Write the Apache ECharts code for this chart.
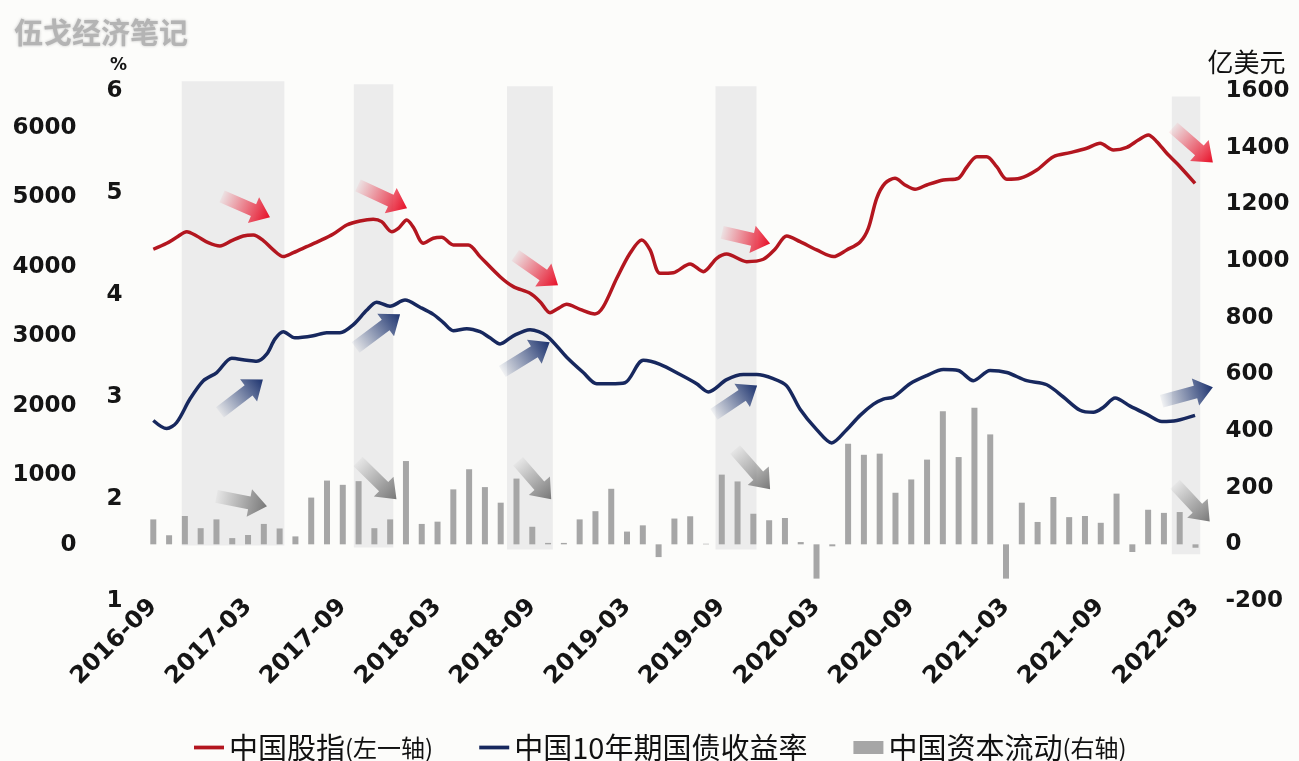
<!DOCTYPE html>
<html>
<head>
<meta charset="utf-8">
<script src="https://cdn.jsdelivr.net/npm/echarts@6/dist/echarts.min.js"></script>
<style>
  html, body { margin: 0; padding: 0; background: #fcfcfa; }
  #chart { width: 1299px; height: 761px; }
</style>
</head>
<body>
<div id="chart"></div>
<script>
// Monthly categories, 2016-09 .. 2022-03
const months = [
  '2016-09','2016-10','2016-11','2016-12',
  '2017-01','2017-02','2017-03','2017-04','2017-05','2017-06','2017-07','2017-08','2017-09','2017-10','2017-11','2017-12',
  '2018-01','2018-02','2018-03','2018-04','2018-05','2018-06','2018-07','2018-08','2018-09','2018-10','2018-11','2018-12',
  '2019-01','2019-02','2019-03','2019-04','2019-05','2019-06','2019-07','2019-08','2019-09','2019-10','2019-11','2019-12',
  '2020-01','2020-02','2020-03','2020-04','2020-05','2020-06','2020-07','2020-08','2020-09','2020-10','2020-11','2020-12',
  '2021-01','2021-02','2021-03','2021-04','2021-05','2021-06','2021-07','2021-08','2021-09','2021-10','2021-11','2021-12',
  '2022-01','2022-02','2022-03'
];

// China capital flow, 100 million USD (right axis), one bar per month
const capitalFlow = [
  88, 32, 100, 57, 88, 22, 33, 72, 56, 28,
  165, 225, 210, 223, 57, 88, 294, 72, 80, 194,
  265, 202, 147, 232, 62, 5, 5, 88, 117, 196,
  45, 67, -45, 91, 99, 2, 246, 222, 108, 85,
  93, 8, -121, -7, 355, 316, 320, 182, 229, 299,
  470, 308, 482, 388, -121, 147, 79, 167, 96, 100,
  76, 179, -27, 122, 111, 114, -12
];

// China stock index (left axis); [months since 2016-09, index level]
const stockIndex = [
  [0,4255],[0.85,4341],[1.48,4427],[2.12,4508],[2.75,4446],[3.48,4350],[4.22,4302],[4.97,4379],
  [5.7,4446],[6.33,4460],[6.97,4379],[7.6,4245],[8.23,4149],[8.87,4206],[9.71,4292],[10.56,4379],
  [11.4,4475],[12.25,4604],[13.09,4662],[13.93,4686],[14.46,4652],[15.1,4508],[15.52,4556],[16.05,4676],
  [16.47,4571],[17.1,4341],[17.73,4413],[18.26,4427],[19.0,4317],[19.95,4317],[20.69,4149],[21.96,3860],
  [22.8,3717],[23.86,3621],[24.49,3501],[25.12,3343],[25.65,3405],[26.18,3463],[27.02,3391],[27.97,3324],
  [28.5,3429],[29.35,3837],[30.19,4197],[30.93,4388],[31.46,4245],[32.09,3909],[32.93,3918],[33.99,4043],
  [34.83,3933],[35.68,4125],[36.31,4187],[37.58,4077],[38.63,4111],[39.37,4255],[40.11,4446],[40.96,4364],
  [42.01,4245],[43.07,4149],[43.91,4245],[44.76,4360],[45.28,4556],[45.81,4988],[46.34,5204],[46.97,5276],
  [47.6,5180],[48.24,5118],[48.98,5180],[50.03,5252],[50.98,5276],[51.51,5435],[52.15,5587],[52.78,5587],
  [53.41,5443],[54.05,5262],[54.89,5276],[55.95,5396],[57.0,5587],[58.06,5645],[59.11,5708],[59.96,5780],
  [60.8,5683],[61.65,5722],[62.38,5827],[63.01,5899],[63.55,5803],[64.18,5636],[65.02,5443],[65.97,5204]
];

// China 10-year government bond yield, %; [months since 2016-09, yield]
const bondYield = [
  [0,2.77],[0.85,2.69],[1.48,2.75],[2.32,2.98],[3.17,3.16],[4.02,3.24],[4.97,3.38],[5.92,3.36],
  [6.55,3.35],[7.18,3.42],[7.71,3.57],[8.23,3.64],[8.97,3.58],[10.13,3.6],[10.98,3.63],[11.82,3.63],
  [12.67,3.71],[13.51,3.85],[14.15,3.93],[14.99,3.89],[15.94,3.95],[16.89,3.88],[17.73,3.81],[18.37,3.73],
  [19.0,3.65],[19.85,3.67],[20.69,3.64],[21.32,3.58],[21.96,3.52],[22.8,3.6],[23.86,3.66],[24.91,3.6],
  [26.18,3.39],[27.23,3.24],[28.08,3.13],[28.92,3.13],[29.87,3.14],[31.03,3.36],[32.09,3.32],[33.36,3.22],
  [34.41,3.13],[35.15,3.05],[36.31,3.17],[37.37,3.22],[38.21,3.22],[39.26,3.18],[40.11,3.11],[40.96,2.88],
  [42.01,2.68],[42.96,2.55],[43.91,2.68],[44.76,2.82],[45.61,2.93],[46.23,2.98],[46.87,3.0],[47.92,3.13],
  [48.98,3.21],[50.03,3.27],[50.98,3.26],[51.93,3.16],[52.99,3.26],[54.05,3.24],[55.31,3.16],[56.58,3.12],
  [57.63,3.0],[58.69,2.87],[59.53,2.85],[60.17,2.9],[60.91,2.99],[61.86,2.91],[62.92,2.83],[63.87,2.76],
  [64.82,2.77],[65.97,2.82]
];

// Highlighted periods: [start month, end month, top, bottom] (right-axis units)
const shadedPeriods = [
  [1.8, 8.3, 1634, -4],
  [12.7, 15.2, 1624, -11],
  [22.4, 25.3, 1617, -18],
  [35.6, 38.2, 1617, -18],
  [64.5, 66.3, 1581, -35]
];

// Trend arrows: [tail month, tail value, tip month, tip value, kind] (right-axis units)
// kind 0 = stocks, 1 = bond yield, 2 = capital flow
const trendArrows = [
  [4.35, 1228, 7.39, 1154, 0],
  [12.96, 1267, 16.07, 1186, 0],
  [22.92, 1020, 25.63, 914, 0],
  [36.02, 1101, 39.06, 1062, 0],
  [64.58, 1472, 67.1, 1348, 0],
  [4.22, 466, 6.94, 582, 1],
  [12.81, 695, 15.63, 812, 1],
  [22.1, 610, 25.1, 713, 1],
  [35.5, 459, 38.24, 561, 1],
  [63.85, 505, 67.1, 554, 1],
  [4.0, 169, 7.2, 134, 2],
  [12.96, 293, 15.4, 159, 2],
  [23.1, 293, 25.2, 159, 2],
  [36.84, 335, 39.06, 194, 2],
  [64.7, 212, 66.9, 81, 2]
];

// Axis tick labels
const stockTicks = [0, 1000, 2000, 3000, 4000, 5000, 6000];

const NAMES = ['中国股指(左一轴)', '中国10年期国债收益率', '中国资本流动(右轴)'];
const RED = '#b3161f', NAVY = '#17285e', GREY = '#a6a6a6';
const ARROW_COLORS = [
  ['rgba(236,20,44,0.05)', 'rgba(230,16,40,1)'],
  ['rgba(31,56,115,0.05)', 'rgba(28,50,110,1)'],
  ['rgba(120,120,120,0.05)', 'rgba(120,120,120,1)']
];
const NUM_FONT = 'DejaVu Sans';
const CJK_FONT = 'Noto Sans CJK SC';
const LINE_ICON = 'path://M0,0H32V4H0Z';
const plain = v => String(v);

function arrowPoints(p0, p1) {
  const dx = p1[0] - p0[0], dy = p1[1] - p0[1];
  const len = Math.hypot(dx, dy);
  const ux = dx / len, uy = dy / len, nx = -uy, ny = ux;
  const head = 18, shaft = 6.5, wing = 14;
  const bx = p1[0] - ux * head, by = p1[1] - uy * head;
  return [
    [p0[0] + nx * shaft, p0[1] + ny * shaft],
    [bx + nx * shaft, by + ny * shaft],
    [bx + nx * wing, by + ny * wing],
    [p1[0], p1[1]],
    [bx - nx * wing, by - ny * wing],
    [bx - nx * shaft, by - ny * shaft],
    [p0[0] - nx * shaft, p0[1] - ny * shaft]
  ];
}

const tickLabel = {
  fontFamily: NUM_FONT, fontSize: 23, fontWeight: 'bold', color: '#151515'
};
// vertical labels sit a little below their tick
const yLabel = Object.assign({ padding: [5, 0, 0, 0], formatter: plain }, tickLabel);

const chart = echarts.init(document.getElementById('chart'));

chart.setOption({
  backgroundColor: '#fcfcfa',
  animation: false,
  title: {
    text: '伍戈经济笔记',
    left: 9,
    top: 13,
    textStyle: {
      fontFamily: CJK_FONT, fontSize: 29, fontWeight: 'bold', color: '#b4b4b4',
      textShadowColor: 'rgba(180,180,180,0.8)', textShadowBlur: 3
    }
  },
  legend: {
    data: [
      { name: NAMES[0], icon: LINE_ICON },
      { name: NAMES[1], icon: LINE_ICON },
      { name: NAMES[2], icon: 'rect' }
    ],
    left: 189,
    top: 728,
    itemWidth: 30,
    itemHeight: 13,
    itemGap: 46,
    formatter: function (n) {
      const i = n.indexOf('(');
      return i < 0 ? '{m|' + n + '}' : '{m|' + n.slice(0, i) + '}{s|' + n.slice(i) + '}';
    },
    textStyle: {
      color: '#111',
      fontFamily: CJK_FONT,
      rich: {
        m: { fontSize: 29, fontFamily: CJK_FONT, color: '#111' },
        s: { fontSize: 24, fontFamily: CJK_FONT, color: '#111' }
      }
    }
  },
  grid: { left: 145.4, right: 95.6, top: 91, bottom: 160, containLabel: false },
  xAxis: [
    {
      type: 'category',
      data: months,
      axisLine: { show: false },
      axisTick: { show: false },
      splitLine: { show: false },
      axisLabel: Object.assign({ interval: 5, rotate: 45, margin: 2 }, tickLabel, { fontSize: 24 })
    },
    { type: 'value', min: -0.5, max: 66.5, show: false }
  ],
  yAxis: [
    {
      type: 'value', position: 'left', offset: 61,
      min: -806, max: 6532,
      axisLine: { show: false }, axisTick: { show: false }, splitLine: { show: false },
      axisLabel: Object.assign({ customValues: stockTicks, margin: 8 }, yLabel)
    },
    {
      type: 'value', position: 'left', offset: 27,
      min: 1, max: 6, interval: 1,
      name: '%', nameLocation: 'end', nameGap: 17,
      nameTextStyle: { fontFamily: NUM_FONT, fontSize: 17, fontWeight: 'bold', color: '#151515' },
      axisLine: { show: false }, axisTick: { show: false }, splitLine: { show: false },
      axisLabel: Object.assign({ align: 'center', margin: 4 }, yLabel)
    },
    {
      type: 'value', position: 'right',
      min: -200, max: 1600, interval: 200,
      name: '亿美元', nameLocation: 'end', nameGap: 16,
      nameTextStyle: { align: 'left', fontFamily: CJK_FONT, fontSize: 26, color: '#111', padding: [0, 0, 0, 4] },
      axisLine: { show: false }, axisTick: { show: false }, splitLine: { show: false },
      axisLabel: Object.assign({ margin: 22 }, yLabel)
    }
  ],
  series: [
    {
      type: 'custom',
      name: 'periods',
      xAxisIndex: 1, yAxisIndex: 2,
      clip: false, silent: true, z: 0,
      data: shadedPeriods,
      renderItem: function (params, api) {
        const a = api.coord([api.value(0), api.value(2)]);
        const b = api.coord([api.value(1), api.value(3)]);
        return {
          type: 'rect',
          shape: { x: a[0], y: a[1], width: b[0] - a[0], height: b[1] - a[1] },
          style: { fill: '#ececec' }
        };
      }
    },
    {
      type: 'bar',
      name: NAMES[2],
      xAxisIndex: 0, yAxisIndex: 2,
      data: capitalFlow,
      barWidth: 6,
      itemStyle: { color: GREY },
      z: 2
    },
    {
      type: 'line',
      name: NAMES[0],
      xAxisIndex: 1, yAxisIndex: 0,
      data: stockIndex,
      symbol: 'none', smooth: 0.3,
      lineStyle: { color: RED, width: 3.5 },
      itemStyle: { color: RED },
      z: 3
    },
    {
      type: 'line',
      name: NAMES[1],
      xAxisIndex: 1, yAxisIndex: 1,
      data: bondYield,
      symbol: 'none', smooth: 0.3,
      lineStyle: { color: NAVY, width: 3.5 },
      itemStyle: { color: NAVY },
      z: 3
    },
    {
      type: 'custom',
      name: 'arrows',
      xAxisIndex: 1, yAxisIndex: 2,
      clip: false, silent: true, z: 4,
      data: trendArrows,
      renderItem: function (params, api) {
        const p0 = api.coord([api.value(0), api.value(1)]);
        const p1 = api.coord([api.value(2), api.value(3)]);
        const c = ARROW_COLORS[api.value(4)];
        return {
          type: 'polygon',
          shape: { points: arrowPoints(p0, p1) },
          style: {
            fill: {
              type: 'linear', x: p0[0], y: p0[1], x2: p1[0], y2: p1[1], global: true,
              colorStops: [{ offset: 0, color: c[0] }, { offset: 1, color: c[1] }]
            }
          }
        };
      }
    }
  ]
});
</script>
</body>
</html>
